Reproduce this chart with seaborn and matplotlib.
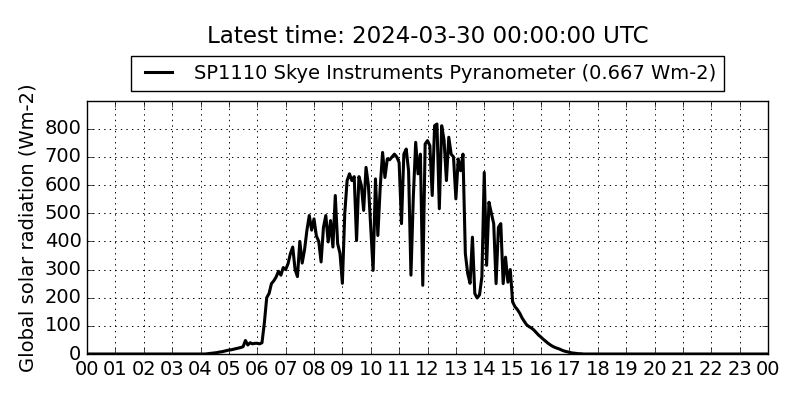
import pandas as pd
import matplotlib
matplotlib.use("Agg")
import matplotlib.pyplot as plt
import matplotlib.dates as mdates
import seaborn as sns

# Pyranometer readings (Wm-2), 5-minute steps, one list per hour (04:00 .. 17:55)
h04 = [0, 0, 0, 1, 2, 3, 4, 5, 7, 8, 10, 12]
h05 = [14, 15, 17, 19, 21, 23, 26, 48, 32, 40, 36, 38]
h06 = [38, 36, 40, 110, 200, 215, 250, 260, 274, 294, 280, 307]
h07 = [300, 320, 356, 380, 300, 275, 400, 323, 370, 439, 492, 440]
h08 = [480, 420, 400, 327, 450, 492, 398, 474, 380, 563, 392, 357]
h09 = [251, 498, 616, 640, 616, 630, 403, 630, 600, 510, 663, 600]
h10 = [446, 297, 622, 421, 592, 716, 627, 693, 690, 700, 710, 700]
h11 = [680, 463, 710, 728, 650, 280, 557, 752, 640, 710, 244, 746]
h12 = [758, 740, 563, 811, 817, 516, 811, 760, 616, 770, 710, 700]
h13 = [551, 693, 651, 710, 357, 286, 251, 415, 215, 199, 210, 274]
h14 = [645, 315, 539, 500, 463, 250, 450, 463, 250, 344, 255, 300]
h15 = [185, 168, 158, 145, 128, 115, 103, 97, 92, 85, 76, 67]
h16 = [60, 52, 45, 38, 32, 27, 23, 20, 17, 13, 10, 8]
h17 = [6, 4, 3, 2, 1, 1, 0, 0, 0, 0, 0, 0]
h18 = [0]

# night: zero at both ends of the day
night_times = ["2024-03-29 00:00", "2024-03-30 00:00"]
night_values = [0, 0]

series_label = "SP1110 Skye Instruments Pyranometer (0.667 Wm-2)"
title = "Latest time: 2024-03-30 00:00:00 UTC"
ylabel = "Global solar radiation (Wm-2)"

day_values = h04 + h05 + h06 + h07 + h08 + h09 + h10 + h11 + h12 + h13 + h14 + h15 + h16 + h17 + h18
day_times = pd.date_range("2024-03-29 04:00", "2024-03-29 18:00", freq="5min")

df = pd.concat([
    pd.DataFrame({"time": pd.to_datetime(night_times[:1]), "radiation": night_values[:1]}),
    pd.DataFrame({"time": day_times, "radiation": day_values}),
    pd.DataFrame({"time": pd.to_datetime(night_times[1:]), "radiation": night_values[1:]}),
], ignore_index=True)

plt.style.use("classic")
fig = plt.figure(figsize=(8, 4), dpi=100, facecolor="white")
ax = fig.add_axes([0.10875, 0.115, 0.85125, 0.6325])

sns.lineplot(data=df, x="time", y="radiation", color="k", linewidth=2.2,
             label=series_label, ax=ax)

ax.set_xlim(pd.Timestamp(night_times[0]), pd.Timestamp(night_times[1]))
ax.set_ylim(0, 1.1 * df["radiation"].max())
ax.xaxis.set_major_locator(mdates.HourLocator())
ax.xaxis.set_major_formatter(mdates.DateFormatter("%H"))
ax.tick_params(labelsize=14)
ax.set_xlabel("")
ax.set_ylabel(ylabel, fontsize=14)
ax.grid(True, color="k", linestyle=":", linewidth=0.7)
ax.set_title(title, fontsize=16.6, pad=42)
ax.legend(loc="lower center", bbox_to_anchor=(0.5, 1.04), fontsize=14,
          frameon=True, fancybox=False, borderaxespad=0, handlelength=2)

fig.savefig("out.png", dpi=100, facecolor="white")
